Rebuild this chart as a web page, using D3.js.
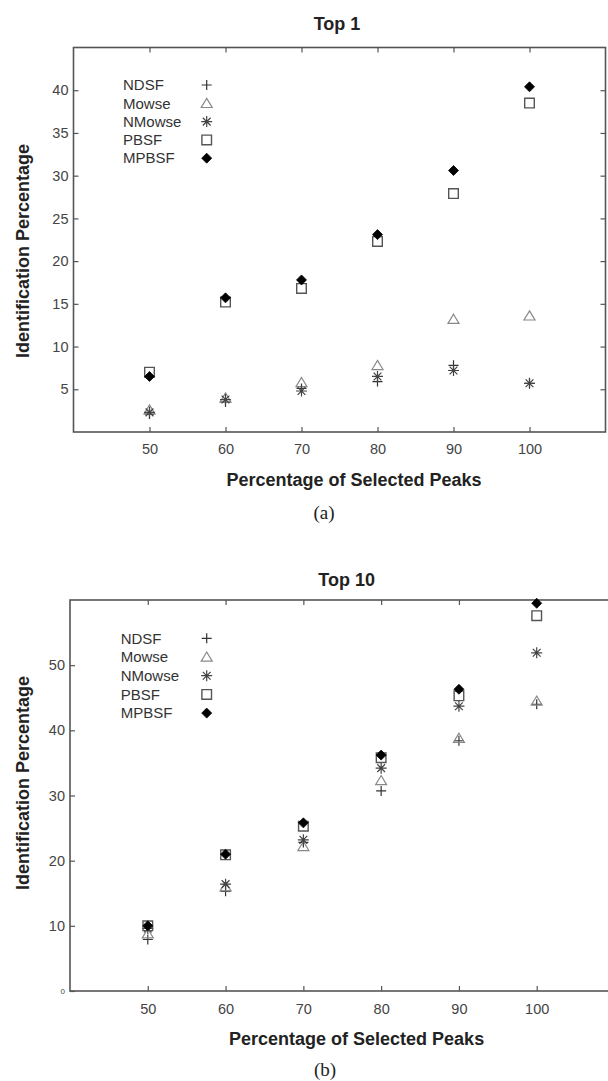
<!DOCTYPE html>
<html>
<head>
<meta charset="utf-8">
<script src="https://cdn.jsdelivr.net/npm/d3@7"></script>
<style>
  body { margin: 0; background: #fff; }
  svg { display: block; font-family: "Liberation Sans", Arial, sans-serif; }
</style>
</head>
<body>
<svg id="chart" width="608" height="1081"></svg>
<script>
// ---- data ----
const peaks = [50, 60, 70, 80, 90, 100];
const methods = ["NDSF", "Mowse", "NMowse", "PBSF", "MPBSF"];

const top1NDSF   = [2.1, 3.5, 5.1, 5.9, 7.8, 5.7];
const top1Mowse  = [2.6, 4.0, 5.8, 7.8, 13.2, 13.6];
const top1NMowse = [2.3, 3.8, 4.8, 6.5, 7.2, 5.7];
const top1PBSF   = [7.0, 15.2, 16.8, 22.3, 27.9, 38.5];
const top1MPBSF  = [6.5, 15.7, 17.8, 23.1, 30.6, 40.4];

const top10NDSF   = [7.9, 15.3, 22.8, 30.7, 38.4, 44.0];
const top10Mowse  = [8.8, 16.0, 22.2, 32.3, 38.8, 44.5];
const top10NMowse = [9.6, 16.4, 23.2, 34.2, 43.7, 51.9];
const top10PBSF   = [10.0, 20.9, 25.3, 35.8, 45.3, 57.6];
const top10MPBSF  = [10.0, 21.0, 25.8, 36.2, 46.3, 59.5];

const xTicks = [50, 60, 70, 80, 90, 100];
const top1YTicks = [5, 10, 15, 20, 25, 30, 35, 40];
const top10YTicks = [0, 10, 20, 30, 40, 50];

// matlab style marker shapes, size = half width in px
const plusSym = {
  draw(ctx, r) {
    ctx.moveTo(-r, 0); ctx.lineTo(r, 0);
    ctx.moveTo(0, -r); ctx.lineTo(0, r);
  }
};
const starSym = {
  draw(ctx, r) {
    const d = r * Math.SQRT1_2;
    ctx.moveTo(-r, 0); ctx.lineTo(r, 0);
    ctx.moveTo(0, -r); ctx.lineTo(0, r);
    ctx.moveTo(-d, -d); ctx.lineTo(d, d);
    ctx.moveTo(-d, d); ctx.lineTo(d, -d);
  }
};
const triSym = {
  draw(ctx, r) {
    const h = r * 0.9;
    ctx.moveTo(0, -h); ctx.lineTo(r, h * 0.85); ctx.lineTo(-r, h * 0.85); ctx.closePath();
  }
};
const squareSym = {
  draw(ctx, r) { ctx.rect(-r, -r, 2 * r, 2 * r); }
};
const diamondSym = {
  draw(ctx, r) {
    ctx.moveTo(0, -r); ctx.lineTo(r, 0); ctx.lineTo(0, r); ctx.lineTo(-r, 0); ctx.closePath();
  }
};

const markers = {
  NDSF:   { type: plusSym,    size: 5,   fill: "none", stroke: "#333", sw: 1.2 },
  Mowse:  { type: triSym,     size: 5.5, fill: "none", stroke: "#888", sw: 1.2 },
  NMowse: { type: starSym,    size: 5.5, fill: "none", stroke: "#444", sw: 1.2 },
  PBSF:   { type: squareSym,  size: 4.8, fill: "none", stroke: "#555", sw: 1.4 },
  MPBSF:  { type: diamondSym, size: 5,   fill: "#000", stroke: "#000", sw: 0.8 }
};

const svg = d3.select("#chart");

function panel(o) {
  const x = d3.scaleLinear().domain([40, 110]).range([o.left, o.right]);
  const y = d3.scaleLinear().domain([0, o.yMax]).range([o.bottom, o.top]);
  const g = svg.append("g");

  // inward ticks on all four sides
  g.append("g").attr("transform", `translate(0,${o.bottom})`)
    .call(d3.axisBottom(x).tickValues(xTicks).tickSize(-5).tickPadding(o.xPad));
  g.append("g").attr("transform", `translate(0,${o.top})`)
    .call(d3.axisTop(x).tickValues(xTicks).tickSize(-5).tickFormat(""));
  const ay = g.append("g").attr("transform", `translate(${o.left},0)`)
    .call(d3.axisLeft(y).tickValues(o.yTicks).tickSize(-5).tickPadding(5));
  g.append("g").attr("transform", `translate(${o.right},0)`)
    .call(d3.axisRight(y).tickValues(o.yTicks).tickSize(-5).tickFormat(""));

  g.selectAll(".domain").remove();
  g.selectAll(".tick line").attr("stroke", "#555").attr("stroke-width", 1.2);
  g.selectAll(".tick text").attr("fill", "#444").attr("font-size", 14.5)
    .attr("font-family", "Liberation Sans, Arial, sans-serif");
  if (o.smallZero) {
    ay.selectAll(".tick text").filter(d => d === 0).attr("font-size", 8);
  }

  g.append("rect")
    .attr("x", o.left).attr("y", o.top)
    .attr("width", o.right - o.left).attr("height", o.bottom - o.top)
    .attr("fill", "none").attr("stroke", "#555").attr("stroke-width", 1.6);

  // points
  methods.forEach((m, i) => {
    const mk = markers[m];
    const sym = d3.symbol().type(mk.type).size(mk.size);
    g.append("g").selectAll("path")
      .data(peaks.map((p, j) => [p, o.series[i][j]]))
      .join("path")
      .attr("d", sym)
      .attr("transform", d => `translate(${x(d[0])},${y(d[1])})`)
      .attr("fill", mk.fill)
      .attr("stroke", mk.stroke)
      .attr("stroke-width", mk.sw);
  });

  // legend
  const leg = g.append("g");
  methods.forEach((m, i) => {
    const mk = markers[m];
    const ly = o.legY + i * o.legStep;
    leg.append("text")
      .attr("x", o.legX).attr("y", ly).attr("dy", "0.35em")
      .attr("font-size", 15).attr("fill", "#333")
      .text(m);
    leg.append("path")
      .attr("d", d3.symbol().type(mk.type).size(mk.size)())
      .attr("transform", `translate(${o.legMarkX},${ly})`)
      .attr("fill", mk.fill).attr("stroke", mk.stroke).attr("stroke-width", mk.sw);
  });

  // titles / labels
  g.append("text")
    .attr("x", o.titleX).attr("y", o.titleY)
    .attr("text-anchor", "middle").attr("font-size", 18).attr("font-weight", "bold")
    .attr("fill", "#222").text(o.title);
  g.append("text")
    .attr("x", o.xLabX).attr("y", o.bottom + 54)
    .attr("text-anchor", "middle").attr("font-size", 18).attr("font-weight", "bold")
    .attr("fill", "#222").text("Percentage of Selected Peaks");
  g.append("text")
    .attr("transform", `translate(28.5,${o.yLabY}) rotate(-90)`)
    .attr("text-anchor", "middle").attr("font-size", 18).attr("font-weight", "bold")
    .attr("fill", "#222").text("Identification Percentage");
  g.append("text")
    .attr("x", o.capX).attr("y", o.capY)
    .attr("text-anchor", "middle").attr("font-size", 19)
    .attr("font-family", "Liberation Serif, Times New Roman, serif")
    .attr("fill", "#222").text(o.caption);
}

panel({
  title: "Top 1", caption: "(a)",
  left: 73.5, right: 605.5, top: 47.5, bottom: 432, yMax: 45,
  yTicks: top1YTicks, xPad: 12, smallZero: false,
  series: [top1NDSF, top1Mowse, top1NMowse, top1PBSF, top1MPBSF],
  legX: 123, legMarkX: 206.7, legY: 85, legStep: 18.3,
  titleX: 337, titleY: 29.5, xLabX: 354, yLabY: 251, capX: 324, capY: 519
});

panel({
  title: "Top 10", caption: "(b)",
  left: 70, right: 614.5, top: 600, bottom: 991, yMax: 60,
  yTicks: top10YTicks, xPad: 13, smallZero: true,
  series: [top10NDSF, top10Mowse, top10NMowse, top10PBSF, top10MPBSF],
  legX: 120.7, legMarkX: 206.7, legY: 638.3, legStep: 18.7,
  titleX: 346.7, titleY: 585.5, xLabX: 356.6, yLabY: 783, capX: 325, capY: 1076
});
</script>
</body>
</html>
